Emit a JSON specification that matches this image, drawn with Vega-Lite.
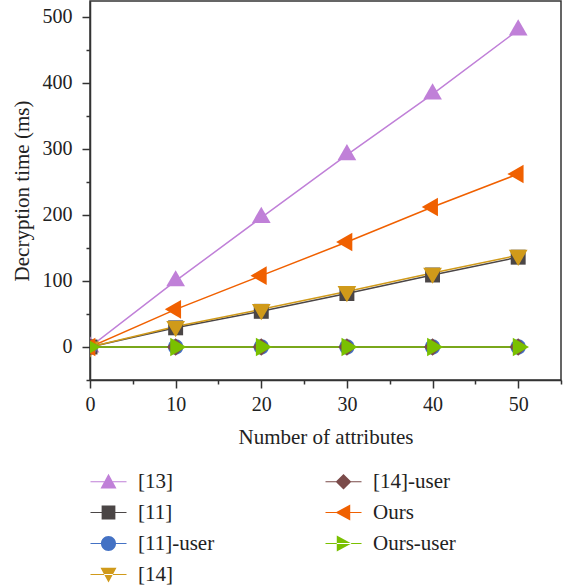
{
  "$schema": "https://vega.github.io/schema/vega-lite/v6.json",
  "width": 471,
  "height": 379,
  "autosize": "none",
  "padding": {"left": 90, "top": 1, "right": 12, "bottom": 208},
  "background": "white",
  "config": {
    "view": {"stroke": "#333333", "strokeWidth": 1.5},
    "font": "Liberation Serif",
    "axis": {
      "grid": false,
      "domainColor": "#333333",
      "domainWidth": 1.5,
      "tickColor": "#333333",
      "tickWidth": 1.5,
      "labelFont": "Liberation Serif",
      "labelFontSize": 20,
      "labelColor": "#222222",
      "titleFont": "Liberation Serif",
      "titleFontSize": 21,
      "titleFontWeight": "normal",
      "titleColor": "#222222",
      "labelOverlap": false,
      "labelFlush": false
    },
    "legend": {
      "labelFont": "Liberation Serif",
      "labelFontSize": 21,
      "labelColor": "#222222"
    }
  },
  "data": {
    "values": [
      {"series": "[13]", "x": 0, "y": 0},
      {"series": "[13]", "x": 10, "y": 100},
      {"series": "[13]", "x": 20, "y": 196},
      {"series": "[13]", "x": 30, "y": 291},
      {"series": "[13]", "x": 40, "y": 383},
      {"series": "[13]", "x": 50, "y": 480},
      {"series": "[11]", "x": 0, "y": 0},
      {"series": "[11]", "x": 10, "y": 29},
      {"series": "[11]", "x": 20, "y": 54},
      {"series": "[11]", "x": 30, "y": 81},
      {"series": "[11]", "x": 40, "y": 109},
      {"series": "[11]", "x": 50, "y": 136},
      {"series": "[11]-user", "x": 0, "y": 0},
      {"series": "[11]-user", "x": 10, "y": 0},
      {"series": "[11]-user", "x": 20, "y": 0},
      {"series": "[11]-user", "x": 30, "y": 0},
      {"series": "[11]-user", "x": 40, "y": 0},
      {"series": "[11]-user", "x": 50, "y": 0},
      {"series": "[14]", "x": 0, "y": 0},
      {"series": "[14]", "x": 10, "y": 31},
      {"series": "[14]", "x": 20, "y": 57},
      {"series": "[14]", "x": 30, "y": 84},
      {"series": "[14]", "x": 40, "y": 112},
      {"series": "[14]", "x": 50, "y": 139},
      {"series": "[14]-user", "x": 0, "y": 0},
      {"series": "[14]-user", "x": 10, "y": 0},
      {"series": "[14]-user", "x": 20, "y": 0},
      {"series": "[14]-user", "x": 30, "y": 0},
      {"series": "[14]-user", "x": 40, "y": 0},
      {"series": "[14]-user", "x": 50, "y": 0},
      {"series": "Ours", "x": 0, "y": 0},
      {"series": "Ours", "x": 10, "y": 57},
      {"series": "Ours", "x": 20, "y": 108},
      {"series": "Ours", "x": 30, "y": 159},
      {"series": "Ours", "x": 40, "y": 212},
      {"series": "Ours", "x": 50, "y": 262},
      {"series": "Ours-user", "x": 0, "y": 0},
      {"series": "Ours-user", "x": 10, "y": 0},
      {"series": "Ours-user", "x": 20, "y": 0},
      {"series": "Ours-user", "x": 30, "y": 0},
      {"series": "Ours-user", "x": 40, "y": 0},
      {"series": "Ours-user", "x": 50, "y": 0}
    ]
  },
  "encoding": {
    "x": {
      "field": "x",
      "type": "quantitative",
      "scale": {"domain": [0, 55], "nice": false, "zero": false},
      "axis": {
        "title": "Number of attributes",
        "values": [0, 5, 10, 15, 20, 25, 30, 35, 40, 45, 50, 55],
        "labelExpr": "datum.value % 10 === 0 ? datum.label : ''",
        "tickSize": {"condition": {"test": "datum.value % 10 === 0", "value": 8}, "value": 4},
        "labelPadding": 6,
        "titlePadding": 12
      }
    },
    "y": {
      "field": "y",
      "type": "quantitative",
      "scale": {"domain": [-50, 524], "nice": false, "zero": false},
      "axis": {
        "title": "Decryption time (ms)",
        "values": [-50, 0, 50, 100, 150, 200, 250, 300, 350, 400, 450, 500],
        "labelExpr": "datum.value % 100 === 0 ? datum.label : ''",
        "tickSize": {"condition": {"test": "datum.value % 100 === 0", "value": 8}, "value": 4},
        "labelPadding": 10,
        "titlePadding": 10
      }
    },
    "color": {
      "field": "series",
      "type": "nominal",
      "scale": {
        "domain": ["[13]", "[11]", "[11]-user", "[14]", "[14]-user", "Ours", "Ours-user"],
        "range": ["#C080D8", "#4B4646", "#4472C4", "#D09A1A", "#7B4B4A", "#F06000", "#7AC000"]
      },
      "legend": null
    }
  },
  "layer": [
    {
      "mark": {"type": "line", "strokeWidth": 1.5, "clip": true}
    },
    {
      "mark": {"type": "point", "filled": true, "opacity": 1, "size": 324, "clip": true},
      "encoding": {
        "shape": {
          "field": "series",
          "type": "nominal",
          "scale": {
            "domain": ["[13]", "[11]", "[11]-user", "[14]", "[14]-user", "Ours", "Ours-user"],
            "range": [
              "M0,-1.2L1.04,0.6L-1.04,0.6Z",
              "M-0.83,-0.83L0.83,-0.83L0.83,0.83L-0.83,0.83Z",
              "M-0.85,0A0.85,0.85,0,1,1,0.85,0A0.85,0.85,0,1,1,-0.85,0Z",
              "M0,1.2L1.04,-0.6L-1.04,-0.6Z",
              "M-0.96,0L0,-0.96L0.96,0L0,0.96Z",
              "M-1.2,0L0.6,-1.04L0.6,1.04Z",
              "M1.2,0L-0.6,-1.04L-0.6,1.04Z"
            ]
          },
          "legend": null
        }
      }
    },
    {
      "transform": [{"filter": "false"}],
      "mark": {"type": "point", "filled": true, "opacity": 1, "size": 256},
      "encoding": {
        "color": {
          "field": "series",
          "type": "nominal",
          "scale": {
            "domain": ["[13]", "[11]", "[11]-user", "[14]", "[14]-user", "Ours", "Ours-user"],
            "range": ["#C080D8", "#4B4646", "#4472C4", "#D09A1A", "#7B4B4A", "#F06000", "#7AC000"]
          },
          "legend": {
            "title": null,
            "orient": "none",
            "legendX": 8,
            "legendY": 470,
            "columns": 2,
            "columnPadding": 110,
            "rowPadding": 9,
            "padding": 0,
            "symbolSize": 256,
            "labelOffset": 19,
            "symbolOffset": 0
          }
        },
        "shape": {
          "field": "series",
          "type": "nominal",
          "scale": {
            "domain": ["[13]", "[11]", "[11]-user", "[14]", "[14]-user", "Ours", "Ours-user"],
            "range": [
              "M0,-1.0L1,0.84L-1,0.84ZM-2.25,-0.07L2.25,-0.07L2.25,0.07L-2.25,0.07Z",
              "M-0.86,-0.86L0.86,-0.86L0.86,0.86L-0.86,0.86ZM-2.25,-0.07L2.25,-0.07L2.25,0.07L-2.25,0.07Z",
              "M-0.94,0A0.94,0.94,0,1,1,0.94,0A0.94,0.94,0,1,1,-0.94,0ZM-2.25,-0.07L2.25,-0.07L2.25,0.07L-2.25,0.07Z",
              "M0,1.0L1,-0.84L-1,-0.84ZM-2.25,-0.07L2.25,-0.07L2.25,0.07L-2.25,0.07Z",
              "M-0.98,0L0,-0.98L0.98,0L0,0.98ZM-2.25,-0.07L2.25,-0.07L2.25,0.07L-2.25,0.07Z",
              "M-1.0,0L0.84,-1L0.84,1ZM-2.25,-0.07L2.25,-0.07L2.25,0.07L-2.25,0.07Z",
              "M1.0,0L-0.84,-1L-0.84,1ZM-2.25,-0.07L2.25,-0.07L2.25,0.07L-2.25,0.07Z"
            ]
          },
          "legend": {
            "title": null,
            "orient": "none",
            "legendX": 8,
            "legendY": 470,
            "columns": 2,
            "columnPadding": 110,
            "rowPadding": 9,
            "padding": 0,
            "symbolSize": 256,
            "labelOffset": 19,
            "symbolOffset": 0
          }
        }
      }
    }
  ],
  "resolve": {
    "scale": {"shape": "independent"},
    "legend": {"color": "independent", "shape": "independent"}
  }
}
